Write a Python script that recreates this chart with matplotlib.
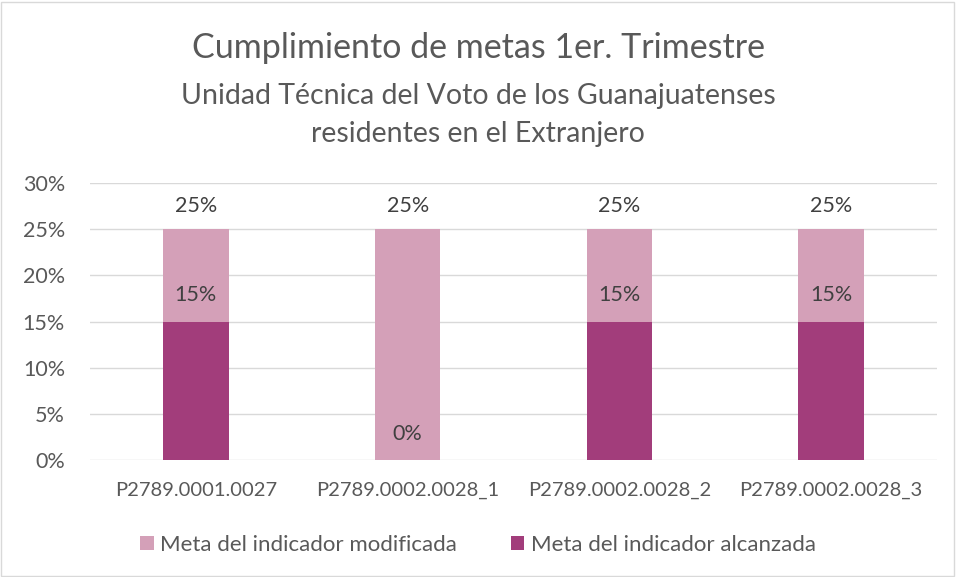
import matplotlib.pyplot as plt
from matplotlib.patches import Rectangle
import numpy as np

plt.rcParams['font.family'] = ['Lato', 'DejaVu Sans']

categorias = ["P2789.0001.0027", "P2789.0002.0028_1", "P2789.0002.0028_2", "P2789.0002.0028_3"]
meta_modificada = [25, 25, 25, 25]
meta_alcanzada = [15, 0, 15, 15]

color_mod = "#d4a0b8"
color_alc = "#a23d7b"
gris_txt = "#595959"

fig = plt.figure(figsize=(9.56, 5.77), dpi=100)
ax = fig.add_axes([90/956, 1 - 460/577, (937-90)/956, (460-183)/577])

x = np.arange(len(categorias))
ancho = 0.31
b1 = ax.bar(x, meta_modificada, ancho, color=color_mod, label="Meta del indicador modificada", zorder=2)
b2 = ax.bar(x, meta_alcanzada, ancho, color=color_alc, label="Meta del indicador alcanzada", zorder=3)

for xi, v in zip(x, meta_modificada):
    ax.annotate(f"{v}%", (xi, v), xytext=(0, 17), textcoords="offset points",
                ha="center", va="center", fontsize=15.5, color="#404040", zorder=4)
for xi, v in zip(x, meta_alcanzada):
    ax.annotate(f"{v}%", (xi, v), xytext=(0, 19), textcoords="offset points",
                ha="center", va="center", fontsize=15.5, color="#404040", zorder=4)

ax.set_xlim(-0.5, len(categorias) - 0.5)
ax.set_ylim(0, 30)
ax.set_yticks(range(0, 31, 5))
ax.set_yticklabels([f"{t}%" for t in range(0, 31, 5)])
ax.set_xticks(x)
ax.set_xticklabels(categorias)
ax.tick_params(axis="both", length=0, labelcolor=gris_txt)
ax.tick_params(axis="y", pad=18, labelsize=15.5)
ax.tick_params(axis="x", pad=16, labelsize=14.5)
ax.grid(axis="y", color="#d9d9d9", linewidth=1, zorder=0)
for s in ax.spines.values():
    s.set_visible(False)

fig.text(0.5, 1 - 48/577, "Cumplimiento de metas 1er. Trimestre", ha="center", va="center",
         fontsize=24.5, color=gris_txt)
fig.text(0.5, 1 - 96/577, "Unidad Técnica del Voto de los Guanajuatenses", ha="center", va="center",
         fontsize=20.5, color=gris_txt)
fig.text(0.5, 1 - 134/577, "residentes en el Extranjero", ha="center", va="center",
         fontsize=20.5, color=gris_txt)

fig.legend(handles=[b1, b2], loc="center", bbox_to_anchor=(0.5, 1 - 545/577), ncol=2,
           frameon=False, fontsize=16, labelcolor=gris_txt, handlelength=0.6, handleheight=0.6,
           handletextpad=0.3, columnspacing=2.4)

fig.patches.append(Rectangle((1/956, 1/577), 953/956, 574/577, transform=fig.transFigure,
                             fill=False, edgecolor="#d9d9d9", linewidth=1))

fig.savefig("out.png", dpi=100)
